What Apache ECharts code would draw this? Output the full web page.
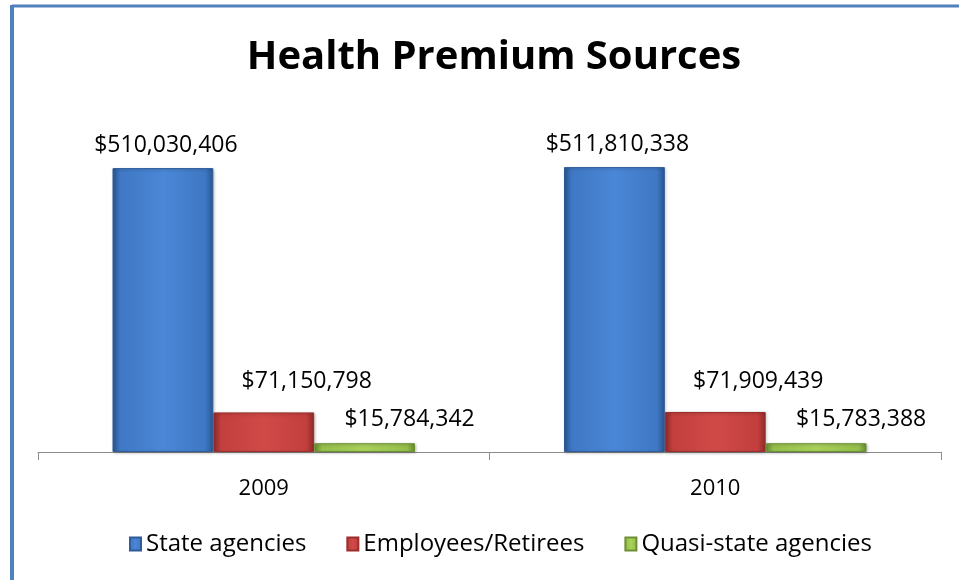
<!DOCTYPE html>
<html><head><meta charset="utf-8">
<script src="https://cdn.jsdelivr.net/npm/echarts@6/dist/echarts.min.js"></script>
<style>html,body{margin:0;padding:0;background:#fff}#c{width:959px;height:580px}</style>
</head><body><div id="c"></div>
<script>
const categories = ['2009', '2010'];
const stateAgencies = [510030406, 511810338];
const employeesRetirees = [71150798, 71909439];
const quasiStateAgencies = [15784342, 15783388];
const seriesNames = ['State agencies', 'Employees/Retirees', 'Quasi-state agencies'];

const FONT = '"Open Sans", "Noto Sans", sans-serif';
function fmt(v){ return '$' + v.toLocaleString('en-US'); }
function grad(light, mid, dark){
  return {type:'linear', x:0, y:0, x2:1, y2:0, colorStops:[
    {offset:0, color:dark},{offset:0.08, color:mid},{offset:0.5, color:light},{offset:0.92, color:mid},{offset:1, color:dark}]};
}
const styles = [
  {fill:grad('#4a87d6','#3f78c4','#2a5590'), border:'#2f5d99', dist:11, off:[3,0]},
  {fill:grad('#d04a48','#c23f3d','#8f2b2a'), border:'#9a2f2d', dist:19, off:[43,0]},
  {fill:grad('#a8d25a','#94c04b','#6a8c33'), border:'#6f8f35', dist:12, off:[45,0]}
];
const data = [stateAgencies, employeesRetirees, quasiStateAgencies];

const chart = echarts.init(document.getElementById('c'), null, {renderer:'canvas'});
chart.setOption({
  animation:false,
  title:{text:'Health Premium Sources', left:489, textAlign:'center', top:33,
    textStyle:{fontFamily:FONT, fontWeight:'bold', fontSize:40, color:'#000'}},
  legend:{bottom:19, left:124, itemWidth:11, itemHeight:13, itemGap:40,
    textStyle:{fontFamily:FONT, fontSize:24, color:'#000'}, icon:'rect'},
  grid:{left:38, right:18, top:118, bottom:128},
  xAxis:{type:'category', data:categories,
    axisLine:{lineStyle:{color:'#8c8c8c', width:1}},
    axisTick:{show:true, interval:0, length:8, lineStyle:{color:'#8c8c8c'}},
    axisLabel:{fontFamily:FONT, fontSize:22, color:'#000', margin:26}},
  yAxis:{type:'value', min:0, max:600000000, show:false, splitLine:{show:false}},
  graphic:[
    {type:'line', shape:{x1:12, y1:6, x2:959, y2:6}, style:{stroke:'#4f81bd', lineWidth:3}},
    {type:'line', shape:{x1:12, y1:5, x2:12, y2:580}, style:{stroke:'#4f81bd', lineWidth:4}}
  ],
  series: seriesNames.map((n,i)=>({
    name:n, type:'bar', data:data[i], barGap:'0%', barCategoryGap:'33%',
    itemStyle:{color:styles[i].fill, borderColor:styles[i].border, borderWidth:1,
      shadowColor:'rgba(0,0,0,0.25)', shadowBlur:3, shadowOffsetX:1, shadowOffsetY:1},
    label:{show:true, position:'top', distance:styles[i].dist, offset:styles[i].off,
      formatter:p=>fmt(p.value), fontFamily:FONT, fontSize:23, color:'#000'}
  }))
});
</script></body></html>
